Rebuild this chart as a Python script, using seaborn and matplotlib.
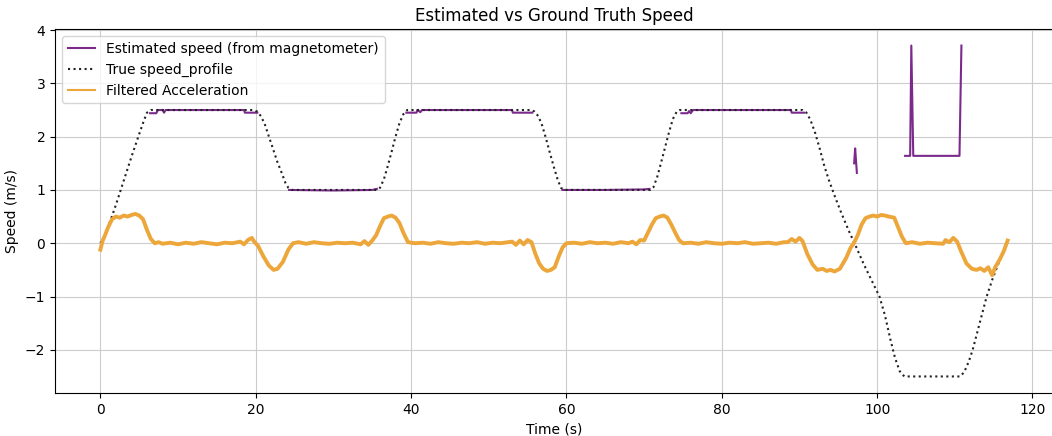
import numpy as np
import pandas as pd
import matplotlib
matplotlib.use("Agg")
import matplotlib.pyplot as plt
import seaborn as sns

# ---------------- data ----------------
true_t = [0, 0.5, 1, 2, 3, 4, 5, 5.6, 6.0, 6.5,
          19.7, 20.2, 20.7, 21.2, 21.7, 22.3, 22.8, 23.4, 23.8, 24.2, 24.6,
          35.6, 36.0, 36.5, 37.0, 37.5, 38.0, 38.5, 39.0, 39.5,
          55.5, 55.9, 56.4, 56.9, 57.4, 57.9, 58.4, 58.9, 59.3, 59.7,
          70.8, 71.2, 71.7, 72.2, 72.7, 73.2, 73.7, 74.2, 74.6,
          90.4, 90.9, 91.4, 92.0, 92.6, 93.2, 93.8, 94.5, 95.3, 96.3, 97.3,
          98.3, 99.3, 100.3, 101.0, 101.7, 102.3, 102.9, 103.5,
          110.7, 111.2, 111.8, 112.3, 113.2, 114.1, 114.9, 115.7, 116.7]
true_v = [0, 0.1, 0.3, 0.72, 1.17, 1.62, 2.05, 2.3, 2.45, 2.5,
          2.5, 2.47, 2.38, 2.22, 2.0, 1.74, 1.52, 1.3, 1.14, 1.04, 1.0,
          1.0, 1.04, 1.2, 1.45, 1.72, 2.0, 2.25, 2.42, 2.5,
          2.5, 2.47, 2.38, 2.2, 1.95, 1.68, 1.42, 1.18, 1.04, 1.0,
          1.0, 1.05, 1.25, 1.52, 1.8, 2.08, 2.33, 2.47, 2.5,
          2.5, 2.45, 2.32, 2.08, 1.78, 1.45, 1.18, 0.9, 0.6, 0.25, -0.07,
          -0.4, -0.7, -1.0, -1.35, -1.8, -2.15, -2.4, -2.5,
          -2.5, -2.42, -2.22, -2.0, -1.5, -1.0, -0.65, -0.35, 0.0]

est_seg = [1] * 9 + [2] * 4 + [3] * 8 + [4] * 4 + [5] * 8 + [6] * 3 + [7] * 6
est_t = [6.4, 7.2, 7.4, 8.0, 8.2, 8.4, 18.5, 18.6, 20.2,
         24.3, 30.0, 35.0, 35.6,
         39.4, 40.7, 40.8, 41.2, 41.4, 53.0, 53.1, 55.6,
         59.5, 65.0, 70.0, 70.7,
         74.8, 75.6, 75.8, 76.0, 76.3, 88.9, 89.0, 90.6,
         97.04, 97.17, 97.39,
         103.6, 104.25, 104.4, 104.65, 110.6, 110.85]
est_v = [2.44, 2.44, 2.5, 2.5, 2.45, 2.5, 2.5, 2.45, 2.45,
         1.0, 0.99, 1.0, 1.02,
         2.45, 2.45, 2.5, 2.46, 2.5, 2.5, 2.45, 2.45,
         1.0, 1.0, 1.01, 1.02,
         2.44, 2.44, 2.48, 2.44, 2.5, 2.5, 2.45, 2.45,
         1.50, 1.78, 1.32,
         1.64, 1.64, 3.71, 1.64, 1.64, 3.71]

acc_t = [0.0, 0.3, 0.6, 1.0, 1.5, 2.0, 2.5, 3.0, 3.5, 4.0, 4.5, 5.0, 5.5, 6.0, 6.5,
         7.0, 7.5, 8.0, 9.0, 10.0, 11.0, 12.0, 13.0, 14.0, 15.0, 16.0, 17.0, 18.0,
         18.5, 19.0, 19.5, 19.8, 20.3, 21.0, 21.7, 22.3, 22.8, 23.5, 24.2, 24.8,
         25.5, 26.5, 27.5, 28.5, 29.5, 30.5, 31.5, 32.5, 33.5, 34.0, 34.5, 35.0,
         35.5, 36.0, 36.5, 37.0, 37.5, 38.0, 38.5, 39.0, 39.6,
         40.5, 41.5, 42.5, 43.5, 44.5, 45.5, 46.5, 47.5, 48.5, 49.5, 50.5, 51.5,
         52.5, 53.0, 53.5, 54.0, 54.5, 55.0, 55.5, 56.0, 56.5, 57.0, 57.5, 58.0,
         58.5, 59.0, 59.5, 60.0,
         61.0, 62.0, 63.0, 64.0, 65.0, 66.0, 67.0, 68.0, 68.5, 69.0, 69.5, 70.0,
         70.5, 71.0, 71.5, 72.0, 72.5, 73.0, 73.5, 74.0, 74.5, 75.0,
         76.0, 77.0, 78.0, 79.0, 80.0, 81.0, 82.0, 83.0, 84.0, 85.0, 86.0, 87.0,
         88.0, 88.5, 89.0, 89.5, 90.0, 90.4, 91.0, 91.7, 92.3, 93.0, 93.5, 94.0,
         94.5, 95.2, 96.0, 96.6, 97.0, 97.5, 98.0, 98.5, 99.0, 99.5, 100.0, 100.5,
         101.0, 101.5, 102.2, 102.7, 103.2, 103.7, 104.5, 105.5, 106.5, 107.5,
         108.5, 108.8, 109.3, 109.8, 110.3, 110.8, 111.5, 112.2, 112.8, 113.3,
         113.8, 114.3, 114.8, 115.2, 115.8, 116.3, 116.8]
acc_v = [-0.12, 0.05, 0.15, 0.30, 0.45, 0.50, 0.48, 0.52, 0.50, 0.53, 0.55, 0.52, 0.45, 0.25, 0.08,
         0.0, 0.02, -0.01, 0.01, -0.02, 0.01, -0.01, 0.02, 0.0, -0.02, 0.01, 0.0, 0.03,
         -0.02, 0.06, 0.10, 0.03, -0.05, -0.25, -0.42, -0.50, -0.48, -0.35, -0.12, 0.0,
         0.02, -0.01, 0.02, 0.0, -0.01, 0.01, 0.0, 0.01, -0.02, 0.04, -0.03, 0.05,
         0.15, 0.32, 0.47, 0.50, 0.52, 0.48, 0.38, 0.20, 0.02,
         0.0, 0.01, -0.01, 0.02, 0.0, -0.01, 0.01, 0.0, 0.02, -0.01, 0.01, 0.0,
         0.02, 0.03, -0.03, 0.05, -0.02, 0.06, 0.02, -0.20, -0.38, -0.48, -0.52, -0.50,
         -0.45, -0.25, -0.08, 0.0,
         0.01, -0.01, 0.02, 0.0, 0.01, -0.01, 0.02, 0.0, 0.03, -0.02, 0.06, 0.05,
         0.20, 0.35, 0.47, 0.50, 0.52, 0.48, 0.35, 0.20, 0.06, 0.0,
         0.01, -0.01, 0.02, 0.0, -0.01, 0.01, 0.0, 0.02, -0.01, 0.0, 0.01, -0.01,
         0.02, 0.02, 0.08, 0.03, 0.10, 0.04, -0.20, -0.40, -0.50, -0.48, -0.52, -0.50,
         -0.53, -0.48, -0.28, -0.08, 0.0, 0.15, 0.35, 0.47, 0.50, 0.52, 0.50, 0.53,
         0.52, 0.50, 0.48, 0.30, 0.12, 0.0, 0.02, -0.01, 0.01, 0.0,
         -0.01, 0.06, 0.02, 0.10, 0.03, -0.15, -0.38, -0.48, -0.50, -0.47,
         -0.52, -0.45, -0.60, -0.45, -0.30, -0.15, 0.05]

# ---------------- plot ----------------
fig = plt.figure(figsize=(10.52, 4.36), dpi=100)
ax = fig.add_axes([55 / 1052, 1 - 393 / 436, 998 / 1052, 364 / 436])

est_df = pd.DataFrame({"t": est_t, "v": est_v, "seg": est_seg})
for i, (seg, g) in enumerate(est_df.groupby("seg")):
    sns.lineplot(data=g, x="t", y="v", ax=ax, color="#7B2A8C", lw=1.5,
                 estimator=None, sort=False,
                 label="Estimated speed (from magnetometer)" if i == 0 else None)

sns.lineplot(x=true_t, y=true_v, ax=ax, color="#222222", lw=1.5,
             linestyle=":", estimator=None, label="True speed_profile")
sns.lineplot(x=acc_t, y=acc_v, ax=ax, color="#EDA63A", lw=2.8,
             estimator=None, label="Filtered Acceleration")

ax.grid(True, color="#cccccc", lw=0.8)
ax.set_title("Estimated vs Ground Truth Speed", fontsize=12)
ax.set_xlabel("Time (s)")
ax.set_ylabel("Speed (m/s)")
leg = ax.legend(loc="upper left")
for line in leg.get_lines():
    line.set_linewidth(1.5)

fig.savefig("out.png", dpi=100)
